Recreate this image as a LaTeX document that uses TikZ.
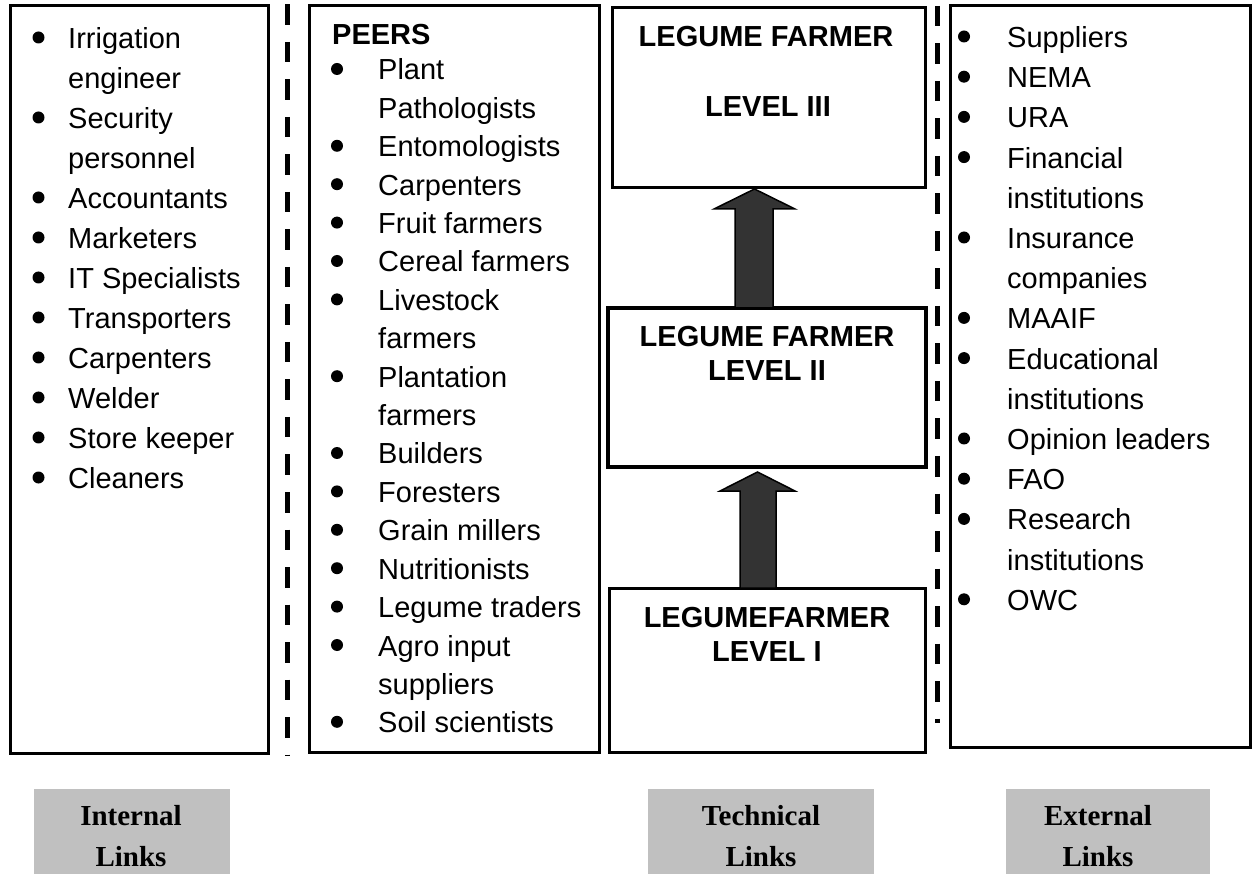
\documentclass[tikz,border=0pt]{standalone}
\usepackage{fontspec}
\setmainfont{Liberation Sans}
\newfontfamily\timesfam{Liberation Serif}
\usetikzlibrary{calc}
\definecolor{silverbox}{HTML}{C0C0C0}
\definecolor{arrowfill}{HTML}{333333}
\begin{document}
\begin{tikzpicture}[x=1pt,y=-1pt,
  box/.style={draw, line width=3pt, inner sep=0pt, outer sep=0pt},
  lvlbox/.style={box},
  item/.style={anchor=base west, inner sep=0pt, font=\fontsize{29}{35}\selectfont},
  bulletdot/.style={fill=black},
  lvltext/.style={anchor=base, inner sep=0pt, font=\fontsize{29}{35}\selectfont\bfseries},
  graybox/.style={fill=silverbox, inner sep=0pt, outer sep=0pt},
  graytext/.style={anchor=base, inner sep=0pt, font=\fontsize{29}{35}\selectfont\timesfam\bfseries},
  sepdash/.style={line width=5pt, dash pattern=on 20.5pt off 17pt},
  blockarrow/.style={fill=arrowfill, draw=black, line width=1.5pt, line join=miter}
]
\useasboundingbox (0,0) rectangle (1256,874);
\fill[white] (0,0) rectangle (1256,874);

% main boxes
\node[box, minimum width=258pt, minimum height=747pt] (intbox) at (139,379.5) {};
\node[box, minimum width=290pt, minimum height=746pt] (peerbox) at (454,379) {};
\node[lvlbox, minimum width=313pt, minimum height=180pt] (l3) at (768.5,98) {};
\node[lvlbox, line width=4.5pt, minimum width=318pt, minimum height=159pt] (l2) at (767,387.5) {};
\node[lvlbox, minimum width=316pt, minimum height=164pt] (l1) at (767,670) {};
\node[box, minimum width=300pt, minimum height=741pt] (extbox) at (1100,376.5) {};

% separators
\coordinate (s1a) at (287,4.5);
\coordinate (s1b) at (287,755);
\coordinate (s2a) at (937,6);
\coordinate (s2b) at (937,723);
\draw[sepdash] (s1a) -- (s1b);
\draw[sepdash] (s2a) -- (s2b);

% internal list
\foreach \t/\b [count=\i from 0] in {Irrigation/1, engineer/0, Security/1, personnel/0,
  Accountants/1, Marketers/1, IT Specialists/1, Transporters/1, Carpenters/1,
  Welder/1, Store keeper/1, Cleaners/1}
{
  \node[item] (int\i) at (68,{48.5+40*\i}) {\t};
  \ifnum\b=1 \fill[bulletdot] (38.5,{48.5+40*\i-11}) circle (6pt); \fi
}

% peers list
\node[item, font=\fontsize{29}{35}\selectfont\bfseries] (peers) at (332,45) {PEERS};
\foreach \t/\b [count=\i from 0] in {Plant/1, Pathologists/0, Entomologists/1, Carpenters/1,
  Fruit farmers/1, Cereal farmers/1, Livestock/1, farmers/0, Plantation/1, farmers/0,
  Builders/1, Foresters/1, Grain millers/1, Nutritionists/1, Legume traders/1,
  Agro input/1, suppliers/0, Soil scientists/1}
{
  \node[item] (peer\i) at (378,{80+38.4*\i}) {\t};
  \ifnum\b=1 \fill[bulletdot] (337,{80+38.4*\i-11}) circle (6pt); \fi
}

% external list
\foreach \t/\b [count=\i from 0] in {Suppliers/1, NEMA/1, URA/1, Financial/1, institutions/0,
  Insurance/1, companies/0, MAAIF/1, Educational/1, institutions/0, Opinion leaders/1,
  FAO/1, Research/1, institutions/0, OWC/1}
{
  \node[item] (ext\i) at (1007,{47.5+40.2*\i}) {\t};
  \ifnum\b=1 \fill[bulletdot] (964,{47.5+40.2*\i-11}) circle (6pt); \fi
}

% level texts
\node[lvltext] (l3a) at (766,47) {LEGUME FARMER};
\node[lvltext] (l3b) at (768,117) {LEVEL III};
\node[lvltext] (l2a) at (767,347) {LEGUME FARMER};
\node[lvltext] (l2b) at (767,381) {LEVEL II};
\node[lvltext] (l1a) at (767,627) {LEGUMEFARMER};
\node[lvltext] (l1b) at (767,661) {LEVEL I};

% block arrows
\filldraw[blockarrow] (740,0 |- l1.north) -- (740,491) -- (720,491)
  -- ($(757.5,0 |- l2.south)+(0,5)$) -- (795,491) -- (776,491) -- (776,0 |- l1.north) -- cycle;
\filldraw[blockarrow] (735,0 |- l2.north) -- (735,209) -- (714,209)
  -- ($(754.5,0 |- l3.south)+(0,1)$) -- (795,209) -- (773,209) -- (773,0 |- l2.north) -- cycle;

% gray labels
\node[graybox, minimum width=196pt, minimum height=85pt] (gint) at (132,831.5) {};
\node[graybox, minimum width=226pt, minimum height=85pt] (gtech) at (761,831.5) {};
\node[graybox, minimum width=204pt, minimum height=85pt] (gext) at (1108,831.5) {};
\node[graytext] (gint1) at (131,825) {Internal};
\node[graytext] (gint2) at (131,866) {Links};
\node[graytext] (gtech1) at (761,825) {Technical};
\node[graytext] (gtech2) at (761,866) {Links};
\node[graytext] (gext1) at (1098,825) {External};
\node[graytext] (gext2) at (1098,866) {Links};
\end{tikzpicture}
\end{document}
